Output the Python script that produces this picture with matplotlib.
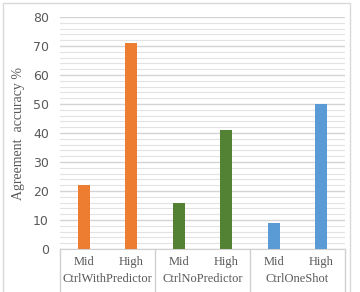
import numpy as np
import matplotlib.pyplot as plt
from matplotlib.patches import Rectangle
from matplotlib.ticker import MultipleLocator
import matplotlib.transforms as mtransforms

groups = ['CtrlWithPredictor', 'CtrlNoPredictor', 'CtrlOneShot']
levels = ['Mid', 'High']
values = [22, 71, 16, 41, 9, 50]
group_colors = ['#ED7D31', '#548235', '#5B9BD5']

fig = plt.figure(figsize=(3.6, 2.92), dpi=100)
ax = fig.add_axes([60 / 360, 1 - 249 / 292, 285 / 360, 232 / 292])

x = np.arange(len(values))
colors = [group_colors[i // 2] for i in range(len(values))]
ax.bar(x, values, width=0.26, color=colors, zorder=3)

ax.set_xlim(-0.5, len(values) - 0.5)
ax.set_ylim(0, 80)
ax.yaxis.set_major_locator(MultipleLocator(10))
ax.yaxis.set_minor_locator(MultipleLocator(2))
ax.grid(which='major', axis='y', color='#d4d4d4', lw=1.0, zorder=0)
ax.grid(which='minor', axis='y', color='#e3e3e3', lw=0.8, zorder=0)
ax.tick_params(axis='y', which='both', length=0, labelsize=9, labelcolor='#595959', pad=8)
ax.tick_params(axis='x', which='both', length=0, labelbottom=False)
for s in ['top', 'right', 'left']:
    ax.spines[s].set_visible(False)
ax.spines['bottom'].set_color('#d0d0d0')

ax.set_ylabel('Agreement  accuracy %', family='Liberation Serif', fontsize=10,
              color='#595959', labelpad=6)

trans = mtransforms.blended_transform_factory(ax.transData, fig.transFigure)
for i, v in enumerate(values):
    ax.text(i, 1 - 262 / 292, levels[i % 2], transform=trans, ha='center', va='center',
            family='Liberation Serif', fontsize=9, color='#595959')
for g, name in enumerate(groups):
    ax.text(2 * g + 0.5, 1 - 279 / 292, name, transform=trans, ha='center', va='center',
            family='Liberation Serif', fontsize=9, color='#595959')
for xb in [-0.5, 1.5, 3.5, 5.5]:
    ax.plot([xb, xb], [1 - 249 / 292, 0.0], transform=trans, color='#d0d0d0',
            lw=1.0, clip_on=False)

fig.patches.append(Rectangle((3 / 360, -0.05), 347 / 360, 1.05 - 3 / 292,
                             transform=fig.transFigure, fill=False,
                             edgecolor='#d9d9d9', lw=1.0))

fig.savefig('out.png', dpi=100)
